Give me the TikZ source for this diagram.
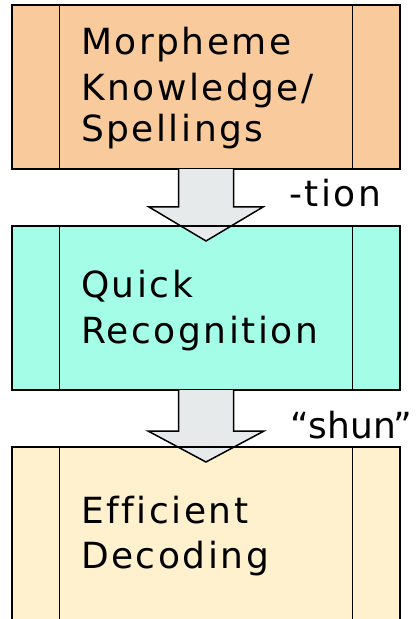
\documentclass[tikz,border=0pt]{standalone}
\usepackage{fontspec}
\setmainfont{DejaVu Sans}[LetterSpace=7, Ligatures={NoCommon}]
\newfontfamily\tightfont{DejaVu Sans}[Ligatures={NoCommon}]
\usetikzlibrary{calc}
\definecolor{peach}{HTML}{F9CB9C}
\definecolor{aqua}{HTML}{A4FDE6}
\definecolor{cream}{HTML}{FFF1CD}
\definecolor{arrowgray}{HTML}{E7EAEB}
\tikzset{
  procbox/.style={draw=black, line width=1.5bp, minimum width=388bp,
    minimum height=164bp, inner sep=0pt, outer sep=0pt},
  sideline/.style={draw=black, line width=1bp},
  blockarrow/.style={draw=black, fill=arrowgray, line width=1.5bp, line join=miter},
  lbl/.style={anchor=base west, inner sep=0pt, outer sep=0pt,
    font=\fontsize{36bp}{44bp}\selectfont}
}
\begin{document}
\begin{tikzpicture}[x=1bp, y=-1bp]
  \useasboundingbox (0,0) rectangle (419,619);
  \clip (0,0) rectangle (419,619);

  % the three process boxes
  \node[procbox, fill=peach] (box1) at (206,87) {};
  \node[procbox, fill=aqua]  (box2) at (206,308) {};
  \node[procbox, fill=cream, minimum height=200bp] (box3) at (206,547) {};

  % double side bars of each process box
  \foreach \b in {box1,box2,box3} {
    \draw[sideline] ($(\b.north west)+(48,0)$) -- ($(\b.south west)+(48,0)$);
    \draw[sideline] ($(\b.north east)+(-48,0)$) -- ($(\b.south east)+(-48,0)$);
  }

  % box texts
  \node[lbl] (t1a) at (81,55)  {Morpheme};
  \node[lbl] (t1b) at (81,101) {Knowledge/};
  \node[lbl] (t1c) at (81,142) {Spellings};
  \node[lbl] (t2a) at (81,297) {Quick};
  \node[lbl] (t2b) at (81,343) {Recognition};
  \node[lbl] (t3a) at (81,523) {Efficient};
  \node[lbl] (t3b) at (81,568) {Decoding};

  % block arrows between the boxes
  \coordinate (tipA)  at ($(box2.north)+(0,15)$);
  \coordinate (neckA) at ($(tipA)+(0,-34)$);
  \draw[blockarrow]
    ($(box1.south)+(-27.5,0)$) -- ($(neckA)+(-27.5,0)$) -- ($(neckA)+(-57,0)$)
    -- (tipA) -- ($(neckA)+(57,0)$) -- ($(neckA)+(27.5,0)$) -- ($(box1.south)+(27.5,0)$);

  \coordinate (tipB)  at ($(box3.north)+(0,15)$);
  \coordinate (neckB) at ($(tipB)+(0,-31)$);
  \draw[blockarrow]
    ($(box2.south)+(-27.5,0)$) -- ($(neckB)+(-27.5,0)$) -- ($(neckB)+(-58,0)$)
    -- (tipB) -- ($(neckB)+(58,0)$) -- ($(neckB)+(27.5,0)$) -- ($(box2.south)+(27.5,0)$);

  % top edges pass over the arrow heads
  \draw[line width=1.5bp] (box2.north west) -- (box2.north east);
  \draw[line width=1.5bp] (box3.north west) -- (box3.north east);

  % arrow labels
  \node[lbl] (labA) at (289,206) {-tion};
  \node[lbl, font=\tightfont\fontsize{36bp}{44bp}\selectfont] (labB) at (290,438) {“shun”};
\end{tikzpicture}
\end{document}
